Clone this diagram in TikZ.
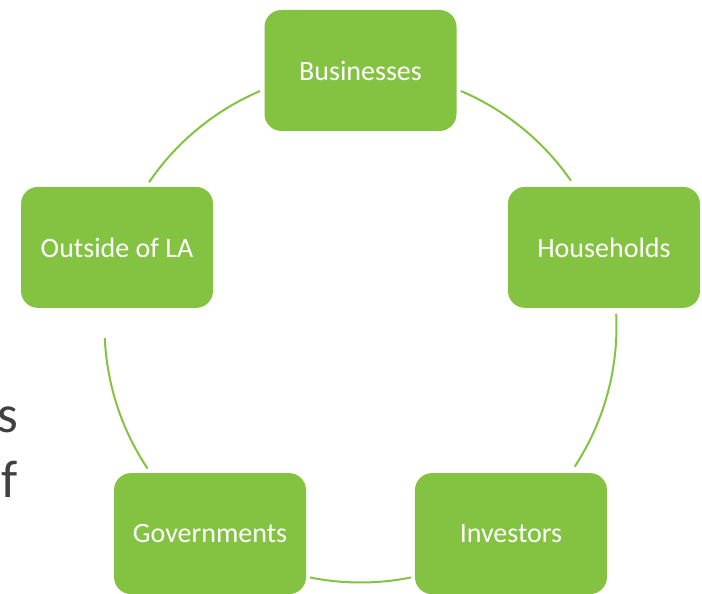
\documentclass[tikz,border=0pt]{standalone}
\usepackage{fontspec}
\setmainfont{Carlito}
\usetikzlibrary{calc}
\definecolor{boxgreen}{HTML}{84C342}
\definecolor{slidegray}{HTML}{404040}
\tikzset{
  box/.style={draw=none, fill=boxgreen, rounded corners=17pt, minimum width=192pt,
    minimum height=121pt, inner sep=0pt, text=white, font=\fontsize{28}{34}\selectfont},
  conn/.style={draw=boxgreen, line width=2pt},
  slidetext/.style={text=slidegray, inner sep=0pt, font=\fontsize{53}{64}\selectfont}
}
\begin{document}
\begin{tikzpicture}[x=1pt,y=1pt]
\useasboundingbox (0,0) rectangle (702,594);
\coordinate (C) at (360.5,267.5);
\node[box] (bus) at ($(C)+(90:256)$) {Businesses};
\node[box] (hh)  at ($(C)+(18:256)$) {Households};
\node[box] (inv) at ($(C)+(-54:256)$) {Investors};
\node[box] (gov) at ($(C)+(-126:256)$) {Governments};
\node[box] (out) at ($(C)+(162:256)$) {Outside of LA};
% arc end points on the circle
\coordinate (a1) at ($(C)+(66.9:256)$);
\coordinate (a2) at ($(C)+(2.8:256)$);
\coordinate (a3) at ($(C)+(-78.6:256)$);
\coordinate (a4) at ($(C)+(-146.3:256)$);
\coordinate (a6) at ($(C)+(145.7:256)$);
\draw[conn] (a1) arc[start angle=66.9, end angle=34.7, radius=256];
\draw[conn] (a2) arc[start angle=2.8, end angle=-33.2, radius=256];
\draw[conn] (a3) arc[start angle=-78.6, end angle=-101.4, radius=256];
\draw[conn] (a4) arc[start angle=-146.3, end angle=-177.4, radius=256];
\draw[conn] (a6) arc[start angle=145.7, end angle=113.1, radius=256];
% cut-off slide text at the left edge
\node[slidetext, anchor=base east] (ts) at (18,161) {s};
\node[slidetext, anchor=base west] (tf) at (1,96) {f};
\end{tikzpicture}
\end{document}
